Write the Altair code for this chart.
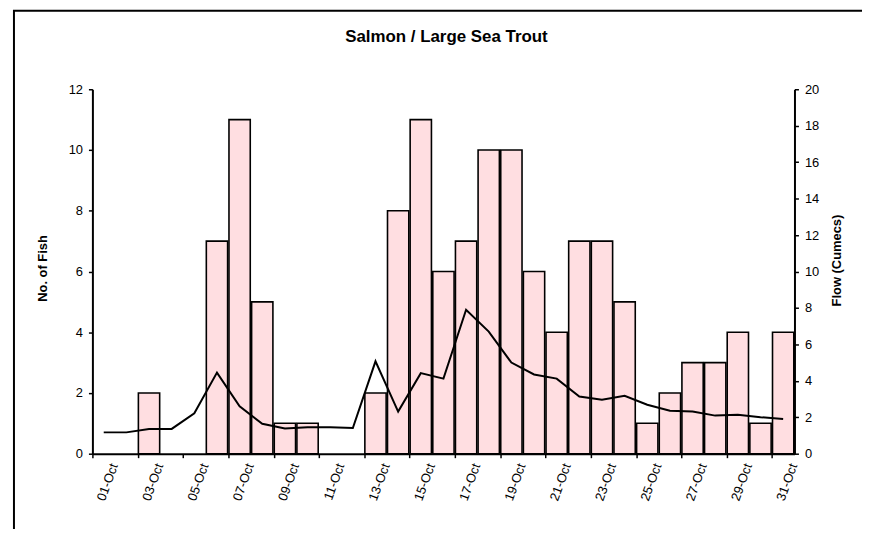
import altair as alt
import pandas as pd

dates = ["01-Oct", "02-Oct", "03-Oct", "04-Oct", "05-Oct", "06-Oct", "07-Oct", "08-Oct",
         "09-Oct", "10-Oct", "11-Oct", "12-Oct", "13-Oct", "14-Oct", "15-Oct", "16-Oct",
         "17-Oct", "18-Oct", "19-Oct", "20-Oct", "21-Oct", "22-Oct", "23-Oct", "24-Oct",
         "25-Oct", "26-Oct", "27-Oct", "28-Oct", "29-Oct", "30-Oct", "31-Oct"]
label_dates = ["01-Oct", "03-Oct", "05-Oct", "07-Oct", "09-Oct", "11-Oct", "13-Oct", "15-Oct",
               "17-Oct", "19-Oct", "21-Oct", "23-Oct", "25-Oct", "27-Oct", "29-Oct", "31-Oct"]
fish = [0, 0, 2, 0, 0, 7, 11, 5, 1, 1, 0, 0, 2, 8, 11, 6, 7, 10, 10, 6, 4, 7, 7, 5, 1, 2, 3, 3, 4, 1, 4]
flow = [1.17, 1.17, 1.36, 1.36, 2.22, 4.45, 2.6, 1.64, 1.38, 1.45, 1.45, 1.41, 5.07, 2.31, 4.42, 4.12,
        7.9, 6.7, 5.0, 4.35, 4.12, 3.14, 2.96, 3.18, 2.69, 2.36, 2.31, 2.09, 2.14, 2.0, 1.91]
fish_ticks = [0, 2, 4, 6, 8, 10, 12]
flow_ticks = [0, 2, 4, 6, 8, 10, 12, 14, 16, 18, 20]

df = pd.DataFrame({"date": dates, "fish": fish, "flow": flow})

FONT = "Liberation Sans"
PINK = "#FFDEE1"
W, H = 707, 367

xenc = alt.X(
    "date:N",
    sort=dates,
    scale=alt.Scale(domain=dates, paddingInner=0.06, paddingOuter=0.03),
    axis=alt.Axis(
        values=label_dates, title=None, bandPosition=0, labelOffset=10.7,
        labelAngle=290, labelAlign="right", labelBaseline="middle", labelPadding=6,
        tickSize=4, grid=False,
    ),
)

bars = alt.Chart(df).transform_filter("datum.fish > 0").mark_bar(
    fill=PINK, stroke="black", strokeWidth=1.6
).encode(
    x=xenc,
    y=alt.Y(
        "fish:Q",
        scale=alt.Scale(domain=[0, 12], nice=False),
        axis=alt.Axis(
            values=fish_ticks, title="No. of Fish", titleAngle=270, titleX=-50, titleY=180,
            titleAlign="center", titleBaseline="middle", labelPadding=6, tickSize=4,
            grid=False,
        ),
    ),
)

line = alt.Chart(df).mark_line(color="black", strokeWidth=2).encode(
    x=xenc,
    y=alt.Y(
        "flow:Q",
        scale=alt.Scale(domain=[0, 20], nice=False),
        axis=alt.Axis(
            orient="right", values=flow_ticks, title="Flow (Cumecs)", titleAngle=270,
            titleX=42, titleY=172, titleAlign="center", titleBaseline="middle",
            labelPadding=6, tickSize=4, grid=False,
        ),
    ),
)

frame = alt.Chart(pd.DataFrame({"k": [0]})).mark_rect(
    fill="transparent", stroke="black", strokeWidth=2
).encode(
    x=alt.value(-79), x2=alt.value(1500), y=alt.value(-79), y2=alt.value(1500)
)

chart = alt.layer(frame, bars, line).resolve_scale(y="independent").properties(
    width=W,
    height=H,
    background="white",
    title=alt.TitleParams(
        "Salmon / Large Sea Trout", font=FONT, fontSize=17, fontWeight="bold",
        color="black", anchor="middle", offset=-36, dx=3,
    ),
    padding={"left": 85, "top": 80, "right": 68, "bottom": 74},
    autosize=alt.AutoSizeParams(type="none"),
).configure_view(strokeWidth=0).configure_axis(
    grid=False, domainColor="black", domainWidth=2, tickColor="black", tickWidth=1.5,
    labelColor="black", labelFont=FONT, labelFontSize=13,
    titleFont=FONT, titleFontSize=13, titleFontWeight="bold", titleColor="black",
)

chart.save("out.html", embed_options={"renderer": "svg", "actions": False})
